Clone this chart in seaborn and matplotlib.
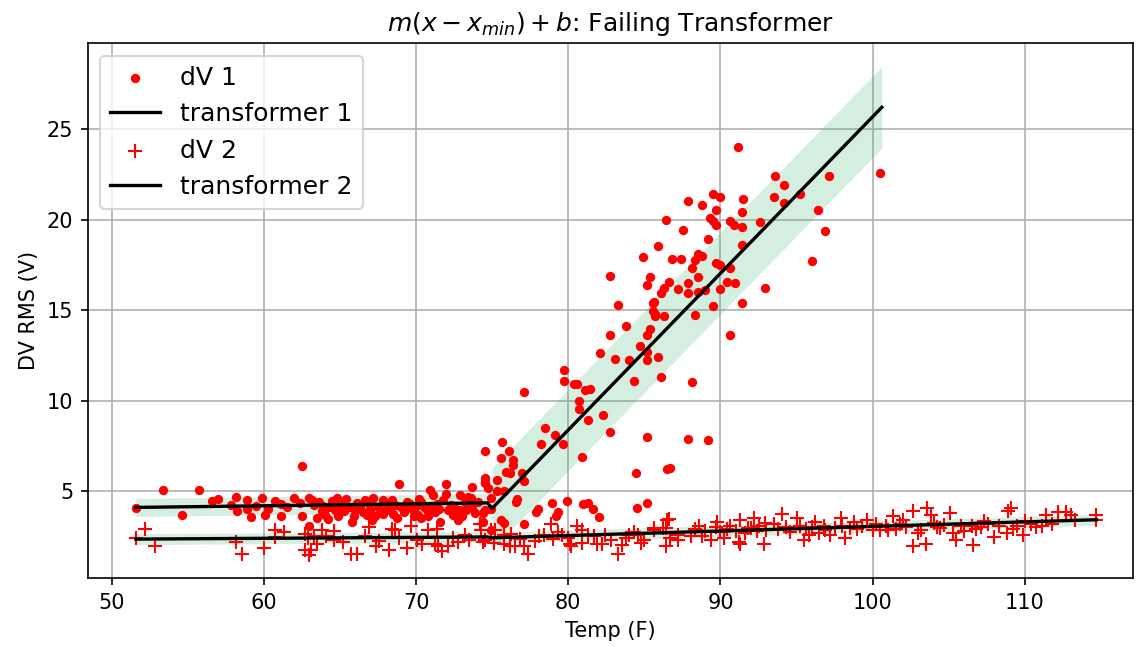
import numpy as np
import matplotlib
matplotlib.use("Agg")
import matplotlib.pyplot as plt
import seaborn as sns

# =========================================
# DATA
# =========================================

# dV 1 : titik (temp, rms)
dv1_pts = [
    (51.6, 4.05), (53.4, 5.05), (54.6, 3.7), (55.75, 5.05), (56.6, 4.45), (57.0, 4.55),
    (57.85, 4.25), (58.2, 4.7), (58.25, 3.9), (58.9, 4.5), (58.9, 4.0), (59.15, 3.55),
    (59.5, 4.2), (59.9, 4.6), (60.1, 3.7), (60.3, 4.0), (60.75, 4.45), (61.1, 4.3),
    (61.1, 3.65), (61.5, 4.1), (62.0, 4.6), (62.5, 6.4), (62.4, 4.35), (62.5, 3.6),
    (62.95, 3.1), (63.0, 4.6), (63.15, 4.5), (63.3, 4.25), (63.5, 3.5), (63.6, 4.4),
    (63.8, 3.9), (63.9, 4.2), (64.0, 3.7), (64.2, 3.45), (64.3, 4.1), (64.5, 4.45),
    (64.7, 3.95), (64.8, 4.6), (64.9, 3.6), (65.0, 4.05), (65.1, 4.3), (65.3, 3.9),
    (65.4, 4.55), (65.6, 4.1), (65.8, 3.3), (65.9, 3.6), (66.0, 3.95), (66.1, 4.35),
    (66.3, 4.2), (66.5, 3.85), (66.65, 4.5), (66.8, 3.7), (66.9, 4.3), (67.0, 3.95),
    (67.1, 3.4), (67.2, 4.6), (67.3, 3.6), (67.5, 4.15), (67.7, 3.9), (67.85, 4.5),
    (67.85, 3.75), (68.0, 4.35), (68.1, 4.0), (68.3, 3.95), (68.4, 4.5), (68.5, 3.75),
    (68.6, 4.25), (68.75, 3.5), (68.9, 5.4), (69.0, 4.1), (69.2, 3.85), (69.3, 4.05),
    (69.4, 4.4), (69.6, 4.3), (69.8, 3.95), (69.9, 3.6), (70.0, 4.2), (70.15, 3.7),
    (70.2, 4.55), (70.3, 4.4), (70.35, 3.5), (70.5, 4.1), (70.7, 3.95), (70.8, 3.6),
    (70.9, 5.05), (71.0, 4.2), (71.1, 4.8), (71.25, 3.85), (71.4, 4.3), (71.5, 4.0),
    (71.6, 3.3), (71.8, 4.5), (72.0, 5.4), (72.0, 4.85), (72.1, 3.95), (72.3, 4.25),
    (72.45, 3.7), (72.6, 4.0), (72.75, 3.4), (72.9, 4.8), (72.9, 3.95), (73.0, 3.6),
    (73.2, 4.4), (73.3, 3.95), (73.4, 4.65), (73.6, 4.6), (73.65, 4.05), (73.7, 5.25),
    (73.9, 3.8), (74.1, 4.4), (74.4, 3.8), (74.4, 3.3), (74.5, 5.45), (74.5, 5.7),
    (74.5, 3.95), (74.5, 5.5), (74.95, 4.6), (74.95, 4.0), (74.95, 2.85),
    (74.5, 7.2), (75.65, 7.7), (76.1, 7.2), (75.6, 6.85), (76.4, 6.7), (76.4, 6.45),
    (75.9, 6.05), (76.15, 6.0), (76.95, 6.0), (77.1, 5.55), (75.35, 5.6), (75.8, 5.0),
    (75.3, 5.0), (74.7, 5.2), (76.65, 4.55), (76.6, 4.4), (75.6, 3.4), (75.8, 3.25),
    (77.1, 3.2), (78.0, 4.0), (77.9, 3.85), (78.95, 4.35), (79.35, 3.85), (79.2, 3.6),
    (79.9, 4.45), (80.95, 4.3), (81.3, 4.35), (81.6, 4.0), (82.05, 3.55), (84.45, 6.0),
    (86.5, 6.2), (86.7, 6.3), (84.5, 4.05), (85.2, 4.35), (85.2, 8.0), (87.9, 7.9),
    (89.2, 7.8), (77.1, 10.5), (78.45, 8.5), (79.1, 8.1), (78.2, 7.6), (79.65, 7.6),
    (80.9, 6.9), (79.7, 11.7), (79.7, 11.1), (80.4, 10.9), (80.6, 10.9), (81.1, 10.6),
    (81.4, 10.65), (80.7, 10.0), (80.7, 9.55), (81.3, 8.95), (82.3, 9.2), (82.75, 8.25),
    (84.3, 11.1), (86.1, 11.3), (88.1, 11.0), (82.1, 12.65), (84.7, 13.0), (85.2, 12.7),
    (83.1, 12.3), (84.0, 12.25), (85.2, 12.25), (85.9, 12.4), (83.8, 14.1), (82.75, 13.6),
    (85.4, 13.95), (85.2, 13.6), (83.25, 15.3), (85.6, 15.4), (85.6, 14.95), (85.7, 14.65),
    (86.3, 14.65), (88.3, 14.75), (89.5, 15.25), (85.7, 14.8), (85.65, 15.45), (82.75, 16.9),
    (85.4, 16.85), (88.5, 16.85), (85.2, 16.4), (86.65, 16.55), (87.9, 16.5), (90.45, 16.55),
    (90.95, 16.5), (86.3, 16.2), (87.2, 16.15), (86.1, 15.95), (87.9, 15.95), (88.5, 16.0),
    (89.0, 16.1), (89.95, 16.15), (92.9, 16.2), (91.4, 15.4), (90.6, 13.6), (84.9, 17.95),
    (86.8, 17.8), (87.4, 17.8), (88.5, 18.1), (88.8, 18.0), (88.3, 17.75), (88.1, 17.35),
    (89.7, 17.6), (90.0, 17.5), (90.6, 17.3), (96.0, 17.7), (85.9, 18.55), (89.2, 18.9),
    (91.4, 18.6), (86.45, 19.95), (87.55, 19.4), (89.3, 20.1), (89.5, 19.9), (89.7, 19.7),
    (90.6, 19.9), (90.9, 19.7), (91.4, 19.6), (92.6, 19.85), (96.9, 19.35), (96.4, 20.55),
    (94.2, 20.9), (95.25, 21.4), (93.5, 21.25), (89.5, 21.4), (90.0, 21.25), (91.5, 21.15),
    (87.9, 21.0), (88.8, 20.8), (89.7, 20.55), (91.4, 20.4), (93.6, 22.4), (94.2, 21.9),
    (97.1, 22.4), (91.15, 24.0), (100.5, 22.55),
]

# dV 2 : titik (temp, rms)
dv2_pts = [
    (51.6, 2.4), (52.2, 2.9), (52.85, 1.95), (58.15, 2.2), (58.6, 1.5), (60.0, 1.85),
    (60.75, 2.85), (61.35, 2.75), (60.75, 2.45), (62.7, 2.65), (62.9, 2.4), (63.3, 2.5),
    (62.7, 1.75), (62.95, 1.45), (63.1, 1.75), (63.5, 2.1), (63.8, 2.85), (64.1, 2.5),
    (64.6, 2.8), (64.6, 2.3), (65.2, 2.2), (65.7, 1.55), (66.1, 1.55), (66.65, 2.5),
    (66.9, 3.0), (67.4, 1.95), (67.6, 2.25), (68.2, 1.75), (68.4, 2.9), (68.6, 2.85),
    (68.85, 2.4), (69.4, 1.85), (69.7, 3.1), (70.05, 2.3), (70.4, 2.1), (70.8, 2.85),
    (71.25, 2.1), (71.4, 2.9), (71.45, 1.95), (71.7, 1.7), (72.1, 1.95), (72.4, 2.4),
    (72.75, 2.2), (73.2, 2.6), (73.5, 2.3), (74.2, 3.2), (74.3, 2.85), (74.4, 2.2),
    (74.5, 2.3), (74.95, 2.85), (75.2, 2.85), (75.1, 2.15), (75.8, 2.55), (75.8, 2.1),
    (76.25, 2.65), (76.2, 1.95), (76.5, 1.95), (76.8, 2.35), (77.1, 1.95), (77.35, 1.55),
    (77.8, 2.25), (78.1, 2.5), (78.4, 2.6), (78.9, 3.2), (79.0, 2.35), (79.3, 2.75),
    (79.6, 2.6), (80.0, 2.4), (80.1, 2.1), (80.2, 1.95), (80.6, 3.1), (80.9, 2.85),
    (80.9, 2.15), (81.3, 2.6), (81.7, 2.5), (81.9, 2.1), (82.2, 2.1), (82.4, 2.6),
    (82.8, 2.3), (83.25, 1.55), (83.5, 2.05), (83.8, 2.4), (84.0, 2.6), (84.3, 2.75),
    (84.55, 2.6), (84.8, 2.15), (85.0, 2.3), (85.65, 2.85), (85.65, 2.95), (86.2, 2.95),
    (86.5, 3.4), (86.6, 3.45), (86.4, 2.95), (86.4, 1.95), (86.7, 2.4), (87.2, 2.6),
    (87.2, 2.3), (88.05, 2.5), (88.3, 2.9), (88.6, 3.05), (88.8, 2.5), (89.0, 2.8),
    (89.35, 2.3), (89.8, 3.3), (89.7, 3.0), (90.0, 2.75), (90.2, 2.4), (90.4, 2.9),
    (90.65, 3.05), (91.0, 2.8), (91.2, 2.2), (91.3, 2.1), (91.3, 3.4), (91.6, 2.7),
    (91.8, 2.95), (92.0, 2.95), (92.2, 3.5), (92.4, 2.8), (92.55, 3.05), (92.85, 2.1),
    (92.9, 3.25), (93.0, 2.85), (93.5, 3.2), (93.8, 2.9), (94.05, 3.75), (94.3, 3.0),
    (94.6, 2.75), (95.0, 3.5), (95.2, 3.05), (95.5, 2.3), (95.6, 2.9), (95.8, 2.6),
    (96.0, 3.0), (96.2, 3.3), (96.5, 2.7), (96.8, 3.1), (96.9, 2.85), (97.2, 2.6),
    (97.5, 2.95), (97.9, 3.5), (98.0, 3.05), (98.2, 2.4), (98.5, 2.95), (98.8, 3.3),
    (99.0, 2.9), (99.3, 3.1), (99.6, 3.4), (100.0, 2.85), (100.2, 3.2), (100.45, 2.85),
    (100.9, 3.05), (100.9, 3.1), (101.0, 2.85), (101.35, 3.6), (101.5, 2.9), (101.8, 3.2),
    (102.0, 3.4), (102.2, 3.0), (102.65, 3.9), (102.65, 1.95), (103.0, 2.7), (103.2, 2.85),
    (103.5, 2.1), (103.55, 4.05), (103.8, 3.7), (104.0, 3.25), (104.2, 3.0), (104.4, 2.95),
    (104.7, 3.15), (105.1, 3.8), (105.3, 2.7), (105.5, 2.3), (105.8, 3.1), (106.0, 2.8),
    (106.5, 3.1), (106.6, 2.0), (106.8, 2.9), (107.1, 3.0), (107.3, 3.35), (107.6, 3.2),
    (108.0, 2.45), (108.3, 3.1), (108.8, 2.7), (108.9, 3.9), (109.1, 4.05), (109.2, 2.9),
    (109.5, 3.1), (109.9, 2.55), (110.0, 3.35), (110.4, 3.2), (110.75, 3.0), (111.1, 3.1),
    (111.4, 3.7), (111.8, 3.2), (112.2, 3.85), (112.7, 3.85), (113.0, 3.7), (113.3, 3.4),
    (114.7, 3.7), (114.7, 3.4),
]

dv1_temp = [p[0] for p in dv1_pts]
dv1_rms = [p[1] for p in dv1_pts]
dv2_temp = [p[0] for p in dv2_pts]
dv2_rms = [p[1] for p in dv2_pts]

# garis fit piecewise (dua segmen) + lebar pita
fit1_seg1_x = [51.6, 74.7]
fit1_seg1_y = [4.1, 4.35]
fit1_seg1_err = 0.5
fit1_seg2_x = [75.0, 100.6]
fit1_seg2_y = [4.05, 26.2]
fit1_seg2_err = 2.25

fit2_seg1_x = [51.6, 74.7]
fit2_seg1_y = [2.35, 2.47]
fit2_seg1_err = 0.3
fit2_seg2_x = [75.0, 114.7]
fit2_seg2_y = [2.42, 3.42]
fit2_seg2_err = 0.3

# =========================================
# PLOT
# =========================================

fig, ax = plt.subplots(figsize=(1138 / 150, 647 / 150), dpi=150)
fig.subplots_adjust(left=0.0773, right=0.9956, top=0.9335, bottom=0.1066)

BAND = dict(color='mediumseagreen', alpha=0.22, linewidth=0)


def band(xs, ys, err):
    xs = np.array(xs)
    ys = np.array(ys)
    ax.fill_between(xs, ys - err, ys + err, **BAND)


band(fit1_seg1_x, fit1_seg1_y, fit1_seg1_err)
band(fit1_seg2_x, fit1_seg2_y, fit1_seg2_err)
band(fit2_seg1_x, fit2_seg1_y, fit2_seg1_err)
band(fit2_seg2_x, fit2_seg2_y, fit2_seg2_err)

sns.scatterplot(x=dv1_temp, y=dv1_rms, marker='o', s=20, color='red',
                linewidth=0, label='dV 1', ax=ax)
sns.lineplot(x=fit1_seg1_x + fit1_seg2_x, y=fit1_seg1_y + fit1_seg2_y,
             sort=False, estimator=None, color='black', linewidth=1.6,
             label='transformer 1', ax=ax)
sns.scatterplot(x=dv2_temp, y=dv2_rms, marker='+', s=40, color='red',
                linewidth=1.0, label='dV 2', ax=ax)
sns.lineplot(x=fit2_seg1_x + fit2_seg2_x, y=fit2_seg1_y + fit2_seg2_y,
             sort=False, estimator=None, color='black', linewidth=1.6,
             label='transformer 2', ax=ax)

ax.set_xlim(48.45, 117.1)
ax.set_ylim(0.2, 29.75)
ax.set_xticks([50, 60, 70, 80, 90, 100, 110])
ax.set_yticks([5, 10, 15, 20, 25])
ax.grid(True)
ax.set_axisbelow(True)

ax.set_title(r'$m(x - x_{min}) + b$: Failing Transformer')
ax.set_xlabel('Temp (F)')
ax.set_ylabel('DV RMS (V)')
ax.legend(loc='upper left', fontsize='large')

fig.savefig('out.png', dpi=150)
